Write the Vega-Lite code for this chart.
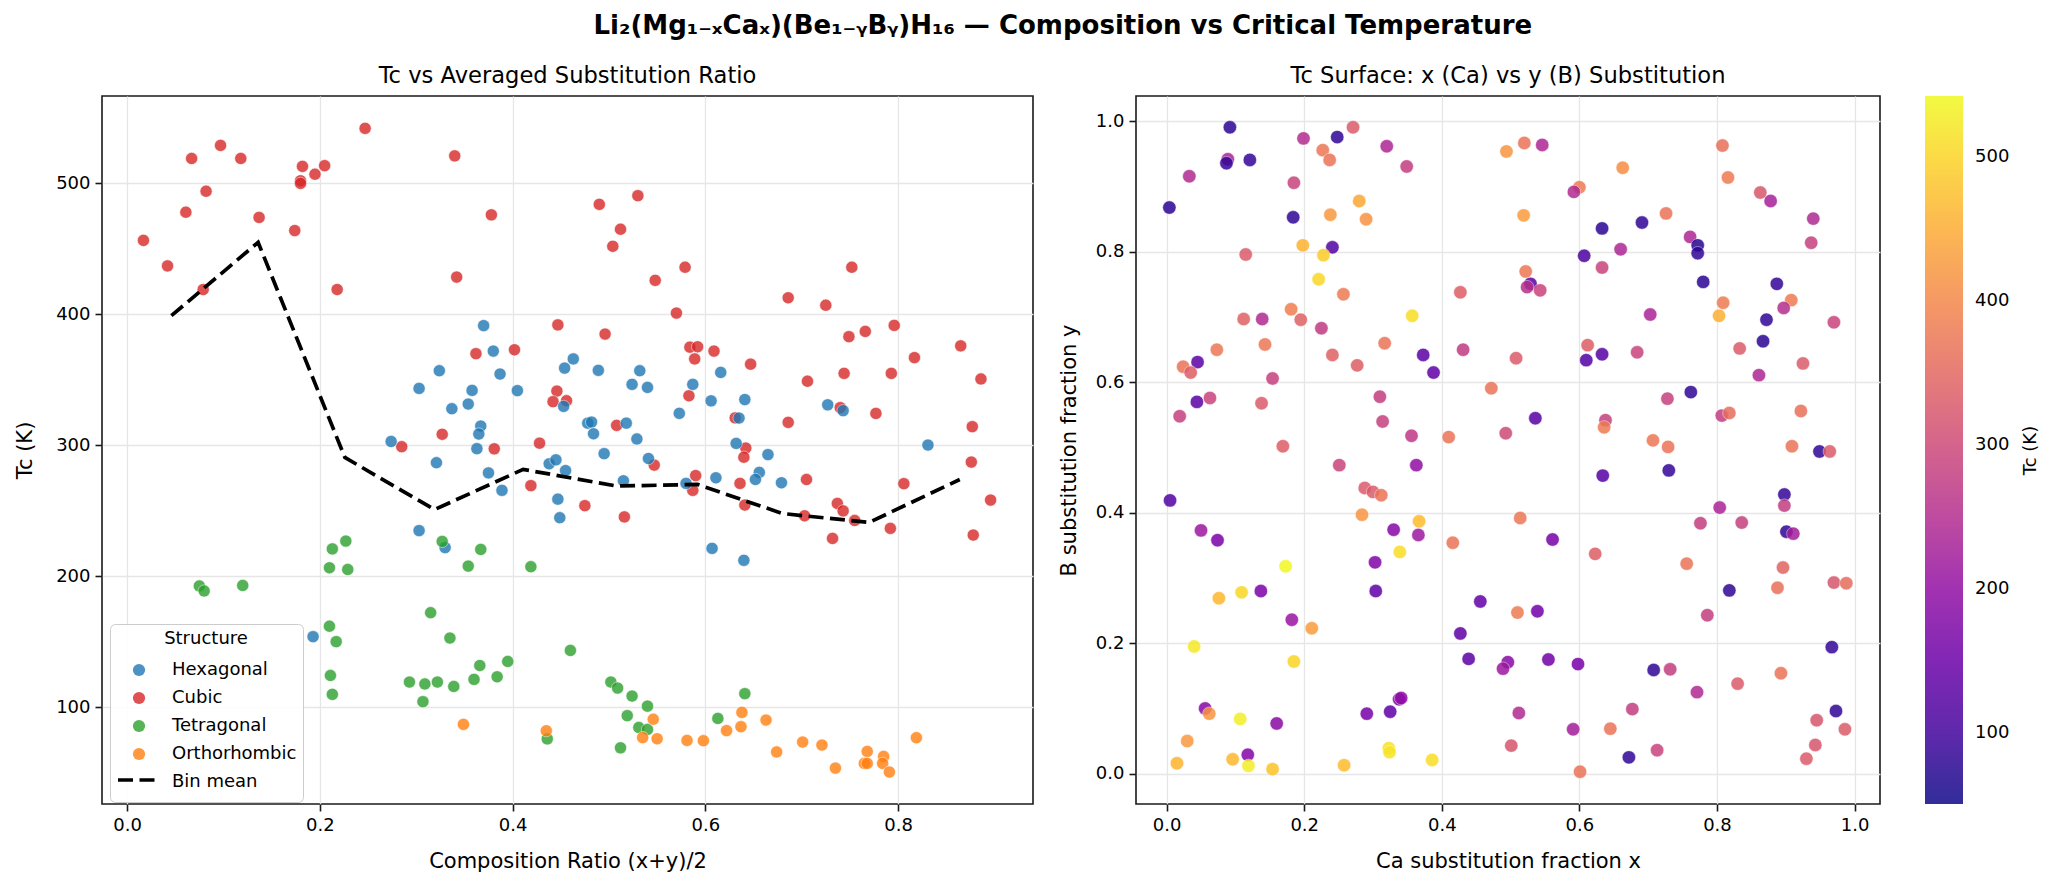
{
  "$schema": "https://vega.github.io/schema/vega-lite/v6.json",
  "padding": {"left": 13, "top": 12, "right": 5, "bottom": 5},
  "background": "white",
  "title": {"text": "Li₂(Mg₁₋ₓCaₓ)(Be₁₋ᵧBᵧ)H₁₆ — Composition vs Critical Temperature", "fontSize": 26, "fontWeight": "bold", "anchor": "middle", "offset": 26, "dx": 36, "color": "#000"},
  "spacing": 23,
  "hconcat": [
    {
      "width": 931,
      "height": 708,
      "title": {"text": "Tc vs Averaged Substitution Ratio", "fontSize": 22.6, "fontWeight": "normal", "offset": 8},
      "layer": [
        {
          "data": {"values": [
            {"ratio": 0.247, "tc": 542, "structure": "Cubic"},
            {"ratio": 0.097, "tc": 529, "structure": "Cubic"},
            {"ratio": 0.067, "tc": 519, "structure": "Cubic"},
            {"ratio": 0.118, "tc": 519, "structure": "Cubic"},
            {"ratio": 0.182, "tc": 513, "structure": "Cubic"},
            {"ratio": 0.205, "tc": 513.5, "structure": "Cubic"},
            {"ratio": 0.195, "tc": 507, "structure": "Cubic"},
            {"ratio": 0.180, "tc": 502, "structure": "Cubic"},
            {"ratio": 0.180, "tc": 500, "structure": "Cubic"},
            {"ratio": 0.082, "tc": 494, "structure": "Cubic"},
            {"ratio": 0.061, "tc": 478, "structure": "Cubic"},
            {"ratio": 0.137, "tc": 474, "structure": "Cubic"},
            {"ratio": 0.174, "tc": 464, "structure": "Cubic"},
            {"ratio": 0.017, "tc": 456.5, "structure": "Cubic"},
            {"ratio": 0.042, "tc": 437, "structure": "Cubic"},
            {"ratio": 0.079, "tc": 419, "structure": "Cubic"},
            {"ratio": 0.218, "tc": 419, "structure": "Cubic"},
            {"ratio": 0.340, "tc": 521, "structure": "Cubic"},
            {"ratio": 0.378, "tc": 476, "structure": "Cubic"},
            {"ratio": 0.342, "tc": 428.5, "structure": "Cubic"},
            {"ratio": 0.490, "tc": 484, "structure": "Cubic"},
            {"ratio": 0.530, "tc": 490.6, "structure": "Cubic"},
            {"ratio": 0.512, "tc": 465, "structure": "Cubic"},
            {"ratio": 0.504, "tc": 452, "structure": "Cubic"},
            {"ratio": 0.579, "tc": 436, "structure": "Cubic"},
            {"ratio": 0.548, "tc": 426, "structure": "Cubic"},
            {"ratio": 0.686, "tc": 412.7, "structure": "Cubic"},
            {"ratio": 0.570, "tc": 401, "structure": "Cubic"},
            {"ratio": 0.447, "tc": 392, "structure": "Cubic"},
            {"ratio": 0.496, "tc": 385, "structure": "Cubic"},
            {"ratio": 0.362, "tc": 370, "structure": "Cubic"},
            {"ratio": 0.402, "tc": 373, "structure": "Cubic"},
            {"ratio": 0.584, "tc": 375, "structure": "Cubic"},
            {"ratio": 0.592, "tc": 375.3, "structure": "Cubic"},
            {"ratio": 0.609, "tc": 372, "structure": "Cubic"},
            {"ratio": 0.589, "tc": 366, "structure": "Cubic"},
            {"ratio": 0.647, "tc": 362, "structure": "Cubic"},
            {"ratio": 0.686, "tc": 317.6, "structure": "Cubic"},
            {"ratio": 0.327, "tc": 308.5, "structure": "Cubic"},
            {"ratio": 0.381, "tc": 297.4, "structure": "Cubic"},
            {"ratio": 0.428, "tc": 301.7, "structure": "Cubic"},
            {"ratio": 0.446, "tc": 341.5, "structure": "Cubic"},
            {"ratio": 0.442, "tc": 333.4, "structure": "Cubic"},
            {"ratio": 0.456, "tc": 334.1, "structure": "Cubic"},
            {"ratio": 0.508, "tc": 315.3, "structure": "Cubic"},
            {"ratio": 0.583, "tc": 337.9, "structure": "Cubic"},
            {"ratio": 0.631, "tc": 321, "structure": "Cubic"},
            {"ratio": 0.642, "tc": 298, "structure": "Cubic"},
            {"ratio": 0.640, "tc": 291, "structure": "Cubic"},
            {"ratio": 0.547, "tc": 285, "structure": "Cubic"},
            {"ratio": 0.590, "tc": 277, "structure": "Cubic"},
            {"ratio": 0.587, "tc": 265.7, "structure": "Cubic"},
            {"ratio": 0.636, "tc": 271, "structure": "Cubic"},
            {"ratio": 0.641, "tc": 254.5, "structure": "Cubic"},
            {"ratio": 0.419, "tc": 269.3, "structure": "Cubic"},
            {"ratio": 0.475, "tc": 254, "structure": "Cubic"},
            {"ratio": 0.516, "tc": 245.4, "structure": "Cubic"},
            {"ratio": 0.285, "tc": 299, "structure": "Cubic"},
            {"ratio": 0.752, "tc": 436, "structure": "Cubic"},
            {"ratio": 0.725, "tc": 407, "structure": "Cubic"},
            {"ratio": 0.796, "tc": 391.6, "structure": "Cubic"},
            {"ratio": 0.766, "tc": 387, "structure": "Cubic"},
            {"ratio": 0.749, "tc": 383, "structure": "Cubic"},
            {"ratio": 0.865, "tc": 376, "structure": "Cubic"},
            {"ratio": 0.817, "tc": 367, "structure": "Cubic"},
            {"ratio": 0.706, "tc": 349, "structure": "Cubic"},
            {"ratio": 0.744, "tc": 355, "structure": "Cubic"},
            {"ratio": 0.793, "tc": 355, "structure": "Cubic"},
            {"ratio": 0.886, "tc": 350.7, "structure": "Cubic"},
            {"ratio": 0.740, "tc": 328.8, "structure": "Cubic"},
            {"ratio": 0.777, "tc": 324.4, "structure": "Cubic"},
            {"ratio": 0.877, "tc": 314.3, "structure": "Cubic"},
            {"ratio": 0.876, "tc": 287.3, "structure": "Cubic"},
            {"ratio": 0.705, "tc": 274, "structure": "Cubic"},
            {"ratio": 0.806, "tc": 270.8, "structure": "Cubic"},
            {"ratio": 0.896, "tc": 258.3, "structure": "Cubic"},
            {"ratio": 0.737, "tc": 255.7, "structure": "Cubic"},
            {"ratio": 0.743, "tc": 250, "structure": "Cubic"},
            {"ratio": 0.703, "tc": 246.3, "structure": "Cubic"},
            {"ratio": 0.755, "tc": 242.7, "structure": "Cubic"},
            {"ratio": 0.792, "tc": 236.7, "structure": "Cubic"},
            {"ratio": 0.732, "tc": 229, "structure": "Cubic"},
            {"ratio": 0.878, "tc": 231.6, "structure": "Cubic"},
            {"ratio": 0.370, "tc": 391.4, "structure": "Hexagonal"},
            {"ratio": 0.380, "tc": 372, "structure": "Hexagonal"},
            {"ratio": 0.463, "tc": 366, "structure": "Hexagonal"},
            {"ratio": 0.454, "tc": 359, "structure": "Hexagonal"},
            {"ratio": 0.324, "tc": 357, "structure": "Hexagonal"},
            {"ratio": 0.387, "tc": 354.5, "structure": "Hexagonal"},
            {"ratio": 0.489, "tc": 357.3, "structure": "Hexagonal"},
            {"ratio": 0.532, "tc": 357, "structure": "Hexagonal"},
            {"ratio": 0.358, "tc": 342, "structure": "Hexagonal"},
            {"ratio": 0.405, "tc": 341.8, "structure": "Hexagonal"},
            {"ratio": 0.354, "tc": 331.6, "structure": "Hexagonal"},
            {"ratio": 0.337, "tc": 328, "structure": "Hexagonal"},
            {"ratio": 0.453, "tc": 329.8, "structure": "Hexagonal"},
            {"ratio": 0.524, "tc": 346.6, "structure": "Hexagonal"},
            {"ratio": 0.540, "tc": 344.3, "structure": "Hexagonal"},
            {"ratio": 0.587, "tc": 346.6, "structure": "Hexagonal"},
            {"ratio": 0.616, "tc": 355.7, "structure": "Hexagonal"},
            {"ratio": 0.606, "tc": 334, "structure": "Hexagonal"},
            {"ratio": 0.641, "tc": 335, "structure": "Hexagonal"},
            {"ratio": 0.573, "tc": 324.5, "structure": "Hexagonal"},
            {"ratio": 0.478, "tc": 317, "structure": "Hexagonal"},
            {"ratio": 0.482, "tc": 317.8, "structure": "Hexagonal"},
            {"ratio": 0.484, "tc": 308.9, "structure": "Hexagonal"},
            {"ratio": 0.518, "tc": 317, "structure": "Hexagonal"},
            {"ratio": 0.529, "tc": 304.9, "structure": "Hexagonal"},
            {"ratio": 0.367, "tc": 314.8, "structure": "Hexagonal"},
            {"ratio": 0.365, "tc": 308.7, "structure": "Hexagonal"},
            {"ratio": 0.363, "tc": 297.5, "structure": "Hexagonal"},
            {"ratio": 0.635, "tc": 320.9, "structure": "Hexagonal"},
            {"ratio": 0.632, "tc": 301.5, "structure": "Hexagonal"},
            {"ratio": 0.665, "tc": 293, "structure": "Hexagonal"},
            {"ratio": 0.495, "tc": 293.7, "structure": "Hexagonal"},
            {"ratio": 0.541, "tc": 290, "structure": "Hexagonal"},
            {"ratio": 0.321, "tc": 286.8, "structure": "Hexagonal"},
            {"ratio": 0.375, "tc": 279, "structure": "Hexagonal"},
            {"ratio": 0.438, "tc": 286, "structure": "Hexagonal"},
            {"ratio": 0.445, "tc": 289, "structure": "Hexagonal"},
            {"ratio": 0.455, "tc": 280.8, "structure": "Hexagonal"},
            {"ratio": 0.389, "tc": 265.7, "structure": "Hexagonal"},
            {"ratio": 0.515, "tc": 273, "structure": "Hexagonal"},
            {"ratio": 0.580, "tc": 271, "structure": "Hexagonal"},
            {"ratio": 0.611, "tc": 275.3, "structure": "Hexagonal"},
            {"ratio": 0.656, "tc": 279.4, "structure": "Hexagonal"},
            {"ratio": 0.652, "tc": 274, "structure": "Hexagonal"},
            {"ratio": 0.679, "tc": 271.5, "structure": "Hexagonal"},
            {"ratio": 0.447, "tc": 259, "structure": "Hexagonal"},
            {"ratio": 0.449, "tc": 244.8, "structure": "Hexagonal"},
            {"ratio": 0.330, "tc": 222, "structure": "Hexagonal"},
            {"ratio": 0.607, "tc": 221.4, "structure": "Hexagonal"},
            {"ratio": 0.640, "tc": 212.3, "structure": "Hexagonal"},
            {"ratio": 0.303, "tc": 343.5, "structure": "Hexagonal"},
            {"ratio": 0.274, "tc": 303, "structure": "Hexagonal"},
            {"ratio": 0.303, "tc": 235, "structure": "Hexagonal"},
            {"ratio": 0.727, "tc": 331, "structure": "Hexagonal"},
            {"ratio": 0.743, "tc": 326.5, "structure": "Hexagonal"},
            {"ratio": 0.831, "tc": 300.3, "structure": "Hexagonal"},
            {"ratio": 0.193, "tc": 154, "structure": "Hexagonal"},
            {"ratio": 0.327, "tc": 226.7, "structure": "Tetragonal"},
            {"ratio": 0.367, "tc": 220.6, "structure": "Tetragonal"},
            {"ratio": 0.354, "tc": 207.9, "structure": "Tetragonal"},
            {"ratio": 0.419, "tc": 207.4, "structure": "Tetragonal"},
            {"ratio": 0.315, "tc": 172.3, "structure": "Tetragonal"},
            {"ratio": 0.227, "tc": 227, "structure": "Tetragonal"},
            {"ratio": 0.213, "tc": 221, "structure": "Tetragonal"},
            {"ratio": 0.210, "tc": 206.6, "structure": "Tetragonal"},
            {"ratio": 0.229, "tc": 205.3, "structure": "Tetragonal"},
            {"ratio": 0.075, "tc": 192.7, "structure": "Tetragonal"},
            {"ratio": 0.080, "tc": 188.9, "structure": "Tetragonal"},
            {"ratio": 0.120, "tc": 193.1, "structure": "Tetragonal"},
            {"ratio": 0.210, "tc": 162, "structure": "Tetragonal"},
            {"ratio": 0.217, "tc": 150.2, "structure": "Tetragonal"},
            {"ratio": 0.335, "tc": 153, "structure": "Tetragonal"},
            {"ratio": 0.460, "tc": 143.5, "structure": "Tetragonal"},
            {"ratio": 0.211, "tc": 124.4, "structure": "Tetragonal"},
            {"ratio": 0.213, "tc": 110, "structure": "Tetragonal"},
            {"ratio": 0.293, "tc": 119.4, "structure": "Tetragonal"},
            {"ratio": 0.309, "tc": 117.9, "structure": "Tetragonal"},
            {"ratio": 0.322, "tc": 119.4, "structure": "Tetragonal"},
            {"ratio": 0.307, "tc": 104.4, "structure": "Tetragonal"},
            {"ratio": 0.339, "tc": 116, "structure": "Tetragonal"},
            {"ratio": 0.360, "tc": 121.4, "structure": "Tetragonal"},
            {"ratio": 0.366, "tc": 132, "structure": "Tetragonal"},
            {"ratio": 0.384, "tc": 123.4, "structure": "Tetragonal"},
            {"ratio": 0.395, "tc": 135.1, "structure": "Tetragonal"},
            {"ratio": 0.502, "tc": 119.4, "structure": "Tetragonal"},
            {"ratio": 0.509, "tc": 114.8, "structure": "Tetragonal"},
            {"ratio": 0.524, "tc": 108.7, "structure": "Tetragonal"},
            {"ratio": 0.540, "tc": 101, "structure": "Tetragonal"},
            {"ratio": 0.519, "tc": 93.7, "structure": "Tetragonal"},
            {"ratio": 0.531, "tc": 84.7, "structure": "Tetragonal"},
            {"ratio": 0.540, "tc": 83.2, "structure": "Tetragonal"},
            {"ratio": 0.512, "tc": 69.2, "structure": "Tetragonal"},
            {"ratio": 0.436, "tc": 76, "structure": "Tetragonal"},
            {"ratio": 0.613, "tc": 91.6, "structure": "Tetragonal"},
            {"ratio": 0.641, "tc": 110.5, "structure": "Tetragonal"},
            {"ratio": 0.349, "tc": 87.1, "structure": "Orthorhombic"},
            {"ratio": 0.435, "tc": 82.2, "structure": "Orthorhombic"},
            {"ratio": 0.535, "tc": 77, "structure": "Orthorhombic"},
            {"ratio": 0.546, "tc": 91, "structure": "Orthorhombic"},
            {"ratio": 0.550, "tc": 76.1, "structure": "Orthorhombic"},
            {"ratio": 0.581, "tc": 74.8, "structure": "Orthorhombic"},
            {"ratio": 0.598, "tc": 74.6, "structure": "Orthorhombic"},
            {"ratio": 0.622, "tc": 82.3, "structure": "Orthorhombic"},
            {"ratio": 0.637, "tc": 85.3, "structure": "Orthorhombic"},
            {"ratio": 0.638, "tc": 96.2, "structure": "Orthorhombic"},
            {"ratio": 0.663, "tc": 90.4, "structure": "Orthorhombic"},
            {"ratio": 0.674, "tc": 66, "structure": "Orthorhombic"},
            {"ratio": 0.701, "tc": 73.6, "structure": "Orthorhombic"},
            {"ratio": 0.721, "tc": 71.3, "structure": "Orthorhombic"},
            {"ratio": 0.735, "tc": 53.7, "structure": "Orthorhombic"},
            {"ratio": 0.768, "tc": 66.4, "structure": "Orthorhombic"},
            {"ratio": 0.765, "tc": 57.3, "structure": "Orthorhombic"},
            {"ratio": 0.768, "tc": 57.3, "structure": "Orthorhombic"},
            {"ratio": 0.785, "tc": 62.6, "structure": "Orthorhombic"},
            {"ratio": 0.784, "tc": 57.3, "structure": "Orthorhombic"},
            {"ratio": 0.791, "tc": 50.7, "structure": "Orthorhombic"},
            {"ratio": 0.819, "tc": 76.9, "structure": "Orthorhombic"}
          ]},
          "mark": {"type": "circle", "size": 150, "opacity": 0.8, "stroke": "white", "strokeWidth": 0.6},
          "encoding": {
            "x": {"field": "ratio", "type": "quantitative",
              "scale": {"domain": [-0.026, 0.94], "nice": false, "zero": false},
              "axis": {"values": [0, 0.2, 0.4, 0.6, 0.8], "format": ".1f", "title": "Composition Ratio (x+y)/2"}},
            "y": {"field": "tc", "type": "quantitative",
              "scale": {"domain": [26.3, 566.7], "nice": false, "zero": false},
              "axis": {"values": [100, 200, 300, 400, 500], "format": "d", "title": "Tc (K)", "titlePadding": 20}},
            "color": {"field": "structure", "type": "nominal",
              "scale": {"domain": ["Hexagonal", "Cubic", "Tetragonal", "Orthorhombic", "Bin mean"], "range": ["#1f77b4", "#d62728", "#2ca02c", "#ff7f0e", "rgba(0,0,0,0)"]},
              "legend": {
                "title": "Structure", "orient": "none", "legendX": 8, "legendY": 528, "zindex": 0,
                "fillColor": "rgba(255,255,255,0.85)", "strokeColor": "#cccccc", "cornerRadius": 5, "padding": 6,
                "titleFontSize": 18, "titleFontWeight": "normal", "titleAnchor": "middle", "titlePadding": 8, "titleColor": "#000",
                "labelFontSize": 18, "labelColor": "#000", "labelOffset": 24, "symbolSize": 150, "symbolOffset": 14,
                "symbolOpacity": 0.8, "symbolStrokeWidth": 0, "clipHeight": 28, "rowPadding": 0
              }}
          }
        },
        {
          "data": {"values": [
            {"ratio": 0.046, "tc": 399},
            {"ratio": 0.136, "tc": 455},
            {"ratio": 0.226, "tc": 290.8},
            {"ratio": 0.319, "tc": 251},
            {"ratio": 0.411, "tc": 281.7},
            {"ratio": 0.508, "tc": 269},
            {"ratio": 0.592, "tc": 270.2},
            {"ratio": 0.680, "tc": 248},
            {"ratio": 0.770, "tc": 241.2},
            {"ratio": 0.864, "tc": 274}
          ]},
          "mark": {"type": "line", "color": "#000000", "strokeWidth": 3.7},
          "encoding": {
            "x": {"field": "ratio", "type": "quantitative"},
            "y": {"field": "tc", "type": "quantitative"},
            "strokeDash": {"datum": "Bin mean", "type": "nominal",
              "scale": {"domain": ["Bin mean"], "range": [[15, 6.5]]},
              "legend": {"title": null, "orient": "none", "legendX": 14, "legendY": 662, "zindex": 1,
                "padding": 0, "symbolType": "stroke", "symbolSize": 1600, "symbolStrokeColor": "#000000",
                "symbolStrokeWidth": 3.7, "labelOpacity": 0, "labelFontSize": 1, "labelOffset": 0}}
          }
        }
      ]
    },
    {
      "width": 744,
      "height": 708,
      "title": {"text": "Tc Surface: x (Ca) vs y (B) Substitution", "fontSize": 22.6, "fontWeight": "normal", "offset": 8},
      "resolve": {"axis": {"y": "independent"}},
      "layer": [
        {
          "data": {"values": [
            {"x": 0.092, "y": 0.991, "tc": 75},
            {"x": 0.199, "y": 0.974, "tc": 250},
            {"x": 0.248, "y": 0.976, "tc": 80},
            {"x": 0.271, "y": 0.991, "tc": 330},
            {"x": 0.320, "y": 0.962, "tc": 240},
            {"x": 0.227, "y": 0.956, "tc": 375},
            {"x": 0.237, "y": 0.941, "tc": 370},
            {"x": 0.089, "y": 0.942, "tc": 235},
            {"x": 0.087, "y": 0.936, "tc": 85},
            {"x": 0.121, "y": 0.941, "tc": 85},
            {"x": 0.349, "y": 0.931, "tc": 280},
            {"x": 0.494, "y": 0.954, "tc": 420},
            {"x": 0.033, "y": 0.916, "tc": 245},
            {"x": 0.185, "y": 0.906, "tc": 290},
            {"x": 0.004, "y": 0.868, "tc": 75},
            {"x": 0.184, "y": 0.853, "tc": 80},
            {"x": 0.238, "y": 0.857, "tc": 425},
            {"x": 0.280, "y": 0.878, "tc": 445},
            {"x": 0.290, "y": 0.850, "tc": 415},
            {"x": 0.198, "y": 0.810, "tc": 460},
            {"x": 0.241, "y": 0.807, "tc": 120},
            {"x": 0.228, "y": 0.795, "tc": 490},
            {"x": 0.221, "y": 0.758, "tc": 505},
            {"x": 0.115, "y": 0.796, "tc": 330},
            {"x": 0.257, "y": 0.735, "tc": 380},
            {"x": 0.427, "y": 0.738, "tc": 335},
            {"x": 0.357, "y": 0.702, "tc": 510},
            {"x": 0.181, "y": 0.712, "tc": 385},
            {"x": 0.195, "y": 0.696, "tc": 340},
            {"x": 0.112, "y": 0.697, "tc": 340},
            {"x": 0.139, "y": 0.697, "tc": 245},
            {"x": 0.225, "y": 0.683, "tc": 275},
            {"x": 0.143, "y": 0.658, "tc": 375},
            {"x": 0.317, "y": 0.660, "tc": 370},
            {"x": 0.073, "y": 0.650, "tc": 375},
            {"x": 0.241, "y": 0.642, "tc": 340},
            {"x": 0.277, "y": 0.626, "tc": 335},
            {"x": 0.373, "y": 0.642, "tc": 130},
            {"x": 0.388, "y": 0.615, "tc": 135},
            {"x": 0.431, "y": 0.650, "tc": 275},
            {"x": 0.045, "y": 0.631, "tc": 130},
            {"x": 0.024, "y": 0.624, "tc": 370},
            {"x": 0.035, "y": 0.615, "tc": 335},
            {"x": 0.154, "y": 0.606, "tc": 285},
            {"x": 0.472, "y": 0.591, "tc": 370},
            {"x": 0.044, "y": 0.570, "tc": 130},
            {"x": 0.063, "y": 0.576, "tc": 290},
            {"x": 0.138, "y": 0.568, "tc": 330},
            {"x": 0.019, "y": 0.548, "tc": 285},
            {"x": 0.310, "y": 0.578, "tc": 280},
            {"x": 0.314, "y": 0.540, "tc": 285},
            {"x": 0.356, "y": 0.518, "tc": 270},
            {"x": 0.410, "y": 0.516, "tc": 370},
            {"x": 0.493, "y": 0.522, "tc": 300},
            {"x": 0.169, "y": 0.502, "tc": 335},
            {"x": 0.520, "y": 0.967, "tc": 370},
            {"x": 0.546, "y": 0.964, "tc": 240},
            {"x": 0.808, "y": 0.963, "tc": 365},
            {"x": 0.663, "y": 0.929, "tc": 410},
            {"x": 0.600, "y": 0.899, "tc": 380},
            {"x": 0.592, "y": 0.892, "tc": 245},
            {"x": 0.816, "y": 0.914, "tc": 380},
            {"x": 0.863, "y": 0.891, "tc": 325},
            {"x": 0.878, "y": 0.878, "tc": 230},
            {"x": 0.519, "y": 0.856, "tc": 430},
            {"x": 0.633, "y": 0.836, "tc": 75},
            {"x": 0.691, "y": 0.845, "tc": 80},
            {"x": 0.726, "y": 0.859, "tc": 370},
            {"x": 0.940, "y": 0.851, "tc": 245},
            {"x": 0.937, "y": 0.814, "tc": 285},
            {"x": 0.761, "y": 0.823, "tc": 240},
            {"x": 0.772, "y": 0.810, "tc": 70},
            {"x": 0.772, "y": 0.798, "tc": 80},
            {"x": 0.607, "y": 0.794, "tc": 110},
            {"x": 0.660, "y": 0.804, "tc": 240},
            {"x": 0.633, "y": 0.776, "tc": 290},
            {"x": 0.780, "y": 0.754, "tc": 75},
            {"x": 0.522, "y": 0.770, "tc": 375},
            {"x": 0.529, "y": 0.751, "tc": 130},
            {"x": 0.524, "y": 0.746, "tc": 255},
            {"x": 0.543, "y": 0.741, "tc": 290},
            {"x": 0.887, "y": 0.751, "tc": 85},
            {"x": 0.908, "y": 0.726, "tc": 380},
            {"x": 0.897, "y": 0.714, "tc": 255},
            {"x": 0.809, "y": 0.722, "tc": 380},
            {"x": 0.803, "y": 0.702, "tc": 455},
            {"x": 0.703, "y": 0.704, "tc": 235},
            {"x": 0.872, "y": 0.696, "tc": 80},
            {"x": 0.970, "y": 0.692, "tc": 290},
            {"x": 0.867, "y": 0.663, "tc": 75},
            {"x": 0.833, "y": 0.652, "tc": 330},
            {"x": 0.925, "y": 0.629, "tc": 330},
            {"x": 0.861, "y": 0.611, "tc": 240},
            {"x": 0.612, "y": 0.657, "tc": 335},
            {"x": 0.610, "y": 0.634, "tc": 120},
            {"x": 0.633, "y": 0.643, "tc": 125},
            {"x": 0.684, "y": 0.646, "tc": 290},
            {"x": 0.508, "y": 0.637, "tc": 330},
            {"x": 0.762, "y": 0.585, "tc": 80},
            {"x": 0.728, "y": 0.575, "tc": 285},
            {"x": 0.536, "y": 0.545, "tc": 125},
            {"x": 0.638, "y": 0.542, "tc": 285},
            {"x": 0.636, "y": 0.531, "tc": 380},
            {"x": 0.807, "y": 0.549, "tc": 280},
            {"x": 0.818, "y": 0.553, "tc": 360},
            {"x": 0.922, "y": 0.556, "tc": 365},
            {"x": 0.707, "y": 0.511, "tc": 375},
            {"x": 0.729, "y": 0.501, "tc": 370},
            {"x": 0.909, "y": 0.502, "tc": 370},
            {"x": 0.949, "y": 0.494, "tc": 80},
            {"x": 0.964, "y": 0.494, "tc": 330},
            {"x": 0.251, "y": 0.473, "tc": 290},
            {"x": 0.363, "y": 0.473, "tc": 200},
            {"x": 0.005, "y": 0.419, "tc": 120},
            {"x": 0.288, "y": 0.438, "tc": 330},
            {"x": 0.300, "y": 0.432, "tc": 330},
            {"x": 0.312, "y": 0.427, "tc": 370},
            {"x": 0.284, "y": 0.397, "tc": 420},
            {"x": 0.367, "y": 0.387, "tc": 470},
            {"x": 0.330, "y": 0.374, "tc": 185},
            {"x": 0.366, "y": 0.366, "tc": 215},
            {"x": 0.416, "y": 0.354, "tc": 370},
            {"x": 0.050, "y": 0.373, "tc": 215},
            {"x": 0.074, "y": 0.358, "tc": 170},
            {"x": 0.339, "y": 0.340, "tc": 510},
            {"x": 0.303, "y": 0.324, "tc": 175},
            {"x": 0.173, "y": 0.318, "tc": 540},
            {"x": 0.109, "y": 0.278, "tc": 505},
            {"x": 0.076, "y": 0.269, "tc": 465},
            {"x": 0.137, "y": 0.280, "tc": 170},
            {"x": 0.304, "y": 0.280, "tc": 135},
            {"x": 0.456, "y": 0.264, "tc": 140},
            {"x": 0.182, "y": 0.236, "tc": 210},
            {"x": 0.211, "y": 0.223, "tc": 430},
            {"x": 0.427, "y": 0.215, "tc": 135},
            {"x": 0.040, "y": 0.195, "tc": 525},
            {"x": 0.185, "y": 0.172, "tc": 500},
            {"x": 0.439, "y": 0.176, "tc": 130},
            {"x": 0.496, "y": 0.171, "tc": 190},
            {"x": 0.489, "y": 0.161, "tc": 215},
            {"x": 0.056, "y": 0.100, "tc": 185},
            {"x": 0.062, "y": 0.092, "tc": 420},
            {"x": 0.107, "y": 0.084, "tc": 530},
            {"x": 0.160, "y": 0.077, "tc": 190},
            {"x": 0.291, "y": 0.092, "tc": 165},
            {"x": 0.325, "y": 0.095, "tc": 135},
            {"x": 0.338, "y": 0.114, "tc": 185},
            {"x": 0.341, "y": 0.116, "tc": 195},
            {"x": 0.030, "y": 0.050, "tc": 425},
            {"x": 0.015, "y": 0.016, "tc": 460},
            {"x": 0.096, "y": 0.022, "tc": 465},
            {"x": 0.118, "y": 0.029, "tc": 180},
            {"x": 0.119, "y": 0.012, "tc": 530},
            {"x": 0.154, "y": 0.007, "tc": 480},
            {"x": 0.258, "y": 0.013, "tc": 470},
            {"x": 0.323, "y": 0.039, "tc": 515},
            {"x": 0.324, "y": 0.033, "tc": 520},
            {"x": 0.386, "y": 0.021, "tc": 510},
            {"x": 0.501, "y": 0.043, "tc": 320},
            {"x": 0.634, "y": 0.457, "tc": 125},
            {"x": 0.730, "y": 0.465, "tc": 85},
            {"x": 0.898, "y": 0.428, "tc": 85},
            {"x": 0.898, "y": 0.411, "tc": 280},
            {"x": 0.804, "y": 0.408, "tc": 235},
            {"x": 0.776, "y": 0.384, "tc": 280},
            {"x": 0.836, "y": 0.385, "tc": 285},
            {"x": 0.901, "y": 0.371, "tc": 80},
            {"x": 0.911, "y": 0.368, "tc": 225},
            {"x": 0.514, "y": 0.392, "tc": 375},
            {"x": 0.561, "y": 0.359, "tc": 165},
            {"x": 0.623, "y": 0.337, "tc": 335},
            {"x": 0.756, "y": 0.322, "tc": 370},
            {"x": 0.896, "y": 0.316, "tc": 345},
            {"x": 0.818, "y": 0.281, "tc": 80},
            {"x": 0.888, "y": 0.285, "tc": 365},
            {"x": 0.970, "y": 0.293, "tc": 320},
            {"x": 0.988, "y": 0.292, "tc": 360},
            {"x": 0.510, "y": 0.247, "tc": 380},
            {"x": 0.539, "y": 0.249, "tc": 160},
            {"x": 0.786, "y": 0.243, "tc": 280},
            {"x": 0.967, "y": 0.194, "tc": 85},
            {"x": 0.555, "y": 0.175, "tc": 160},
            {"x": 0.598, "y": 0.168, "tc": 165},
            {"x": 0.708, "y": 0.159, "tc": 80},
            {"x": 0.732, "y": 0.160, "tc": 280},
            {"x": 0.893, "y": 0.154, "tc": 370},
            {"x": 0.830, "y": 0.138, "tc": 330},
            {"x": 0.771, "y": 0.125, "tc": 245},
            {"x": 0.512, "y": 0.093, "tc": 245},
            {"x": 0.677, "y": 0.099, "tc": 280},
            {"x": 0.973, "y": 0.096, "tc": 80},
            {"x": 0.591, "y": 0.068, "tc": 225},
            {"x": 0.645, "y": 0.069, "tc": 370},
            {"x": 0.945, "y": 0.082, "tc": 320},
            {"x": 0.986, "y": 0.068, "tc": 330},
            {"x": 0.672, "y": 0.025, "tc": 80},
            {"x": 0.713, "y": 0.036, "tc": 290},
            {"x": 0.943, "y": 0.044, "tc": 320},
            {"x": 0.930, "y": 0.023, "tc": 330},
            {"x": 0.601, "y": 0.003, "tc": 370}
          ]},
          "mark": {"type": "circle", "size": 180, "opacity": 0.85, "stroke": "white", "strokeWidth": 0.5},
          "encoding": {
            "x": {"field": "x", "type": "quantitative",
              "scale": {"domain": [-0.0445, 1.037], "nice": false, "zero": false},
              "axis": {"values": [0, 0.2, 0.4, 0.6, 0.8, 1], "format": ".1f", "title": "Ca substitution fraction x"}},
            "y": {"field": "y", "type": "quantitative",
              "scale": {"domain": [-0.0465, 1.039], "nice": false, "zero": false},
              "axis": {"values": [0, 0.2, 0.4, 0.6, 0.8, 1], "format": ".1f", "title": "B substitution fraction y", "titlePadding": 16}},
            "color": {"field": "tc", "type": "quantitative",
              "scale": {"scheme": "plasma", "domain": [50.7, 542]},
              "legend": {"title": null, "orient": "none", "legendX": 789, "legendY": 0, "direction": "vertical",
                "gradientLength": 708, "gradientThickness": 38, "gradientStrokeWidth": 0,
                "values": [100, 200, 300, 400, 500], "labelFontSize": 18, "labelColor": "#000", "labelOffset": 12}}
          }
        },
        {
          "data": {"values": [{"anchor": 0.5}]},
          "mark": {"type": "rule", "opacity": 0},
          "encoding": {
            "y": {"field": "anchor", "type": "quantitative",
              "axis": {"orient": "right", "title": "Tc (K)", "labels": false, "ticks": false, "domain": false, "grid": false,
                "titleAngle": 270, "titleX": 150, "titleY": 354, "titleAlign": "center", "titleBaseline": "middle", "titleFontSize": 18}}
          }
        }
      ]
    }
  ],
  "config": {
    "font": "DejaVu Sans",
    "view": {"stroke": "#1a1a1a", "strokeWidth": 1.6},
    "axis": {"domain": false, "grid": true, "gridColor": "#e6e6e6", "gridWidth": 1.3,
      "tickColor": "#1a1a1a", "tickSize": 7, "tickWidth": 1.6,
      "labelFontSize": 18, "labelColor": "#000", "labelPadding": 5, "labelFlush": false,
      "titleFontSize": 21, "titleFontWeight": "normal", "titleColor": "#000", "titlePadding": 16},
    "title": {"color": "#000"}
  }
}
